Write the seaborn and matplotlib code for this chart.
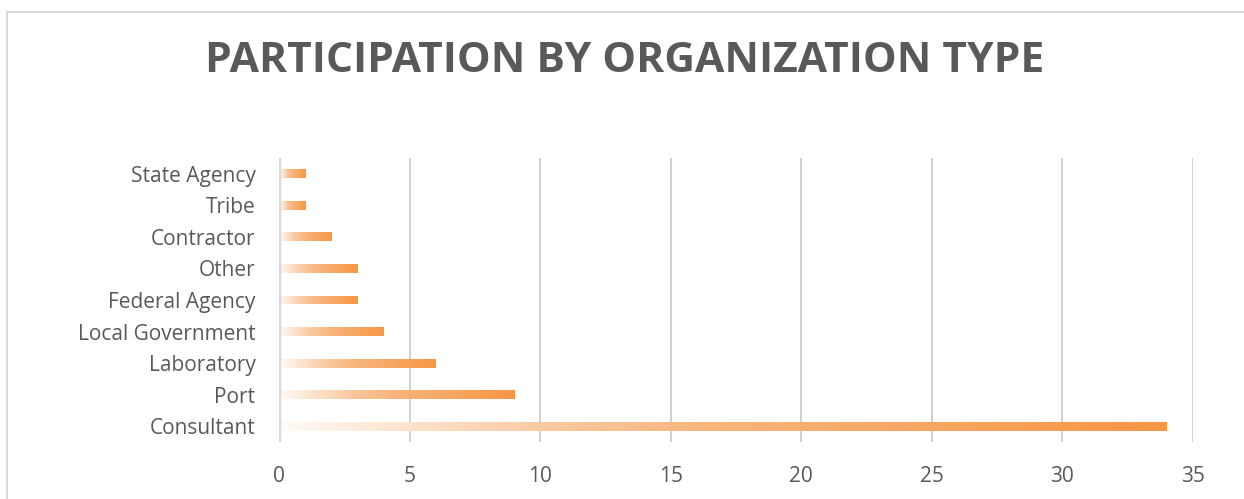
import numpy as np
import matplotlib
matplotlib.use("Agg")
import matplotlib.pyplot as plt
import seaborn as sns
import pandas as pd
from matplotlib.colors import LinearSegmentedColormap
from matplotlib.lines import Line2D

categories = ["State Agency", "Tribe", "Contractor", "Other", "Federal Agency",
              "Local Government", "Laboratory", "Port", "Consultant"]
counts = [1, 1, 2, 3, 3, 4, 6, 9, 34]
xticks = [0, 5, 10, 15, 20, 25, 30, 35]
title = "PARTICIPATION BY ORGANIZATION TYPE"

sns.set_theme(style="white")
plt.rcParams['font.family'] = ['Open Sans', 'DejaVu Sans']

W, H = 1244, 499
fig = plt.figure(figsize=(W / 100, H / 100), dpi=100)
fig.patch.set_facecolor("white")
ax = fig.add_axes([279 / W, 1 - 442 / H, (1193 - 279) / W, (442 - 158) / H])

df = pd.DataFrame({"cat": categories, "n": counts})
sns.barplot(data=df, y="cat", x="n", orient="h", color="#F79646",
            width=0.28, ax=ax, zorder=3)

cmap = LinearSegmentedColormap.from_list(
    "grad", [(0.0, "#FFFAF5"), (0.15, "#FDE2CB"), (0.3, "#FAC9A1"),
             (0.5, "#F8B47A"), (1.0, "#F79646")])
grad = np.linspace(0, 1, 256).reshape(1, -1)
for p in list(ax.patches):
    x0, y0 = p.get_x(), p.get_y()
    w, h = p.get_width(), p.get_height()
    p.set_facecolor("none")
    p.set_edgecolor("none")
    im = ax.imshow(grad, cmap=cmap, aspect="auto",
                   extent=[x0, x0 + w, y0 + h, y0], zorder=3,
                   interpolation="bilinear")
    im.set_clip_path(p)

ax.set_xlim(0, 35)
ax.set_ylim(8.5, -0.5)
ax.set_xticks(xticks)
ax.set_xticklabels([str(t) for t in xticks])
ax.grid(axis="x", color="#D0D0D0", lw=1.4, zorder=0)
ax.grid(axis="y", visible=False)
ax.axvline(0, color="#D9D9D9", lw=3.2, zorder=4)
for s in ax.spines.values():
    s.set_visible(False)
ax.set_xlabel("")
ax.set_ylabel("")
ax.tick_params(axis="both", length=0, labelsize=15, labelcolor="#595959")
ax.tick_params(axis="y", pad=17)
ax.tick_params(axis="x", pad=17)

fig.text(625 / W, 1 - 61 / H, title, ha="center", va="center",
         fontsize=30.6, fontweight="bold", color="#595959")

fig.add_artist(Line2D([6.5 / W, 6.5 / W], [0, 1 - 11.5 / H],
                      transform=fig.transFigure, color="#D9D9D9", lw=1.5))
fig.add_artist(Line2D([6.5 / W, 1], [1 - 11.5 / H, 1 - 11.5 / H],
                      transform=fig.transFigure, color="#D9D9D9", lw=1.5))

fig.savefig("out.png", dpi=100, facecolor="white")
